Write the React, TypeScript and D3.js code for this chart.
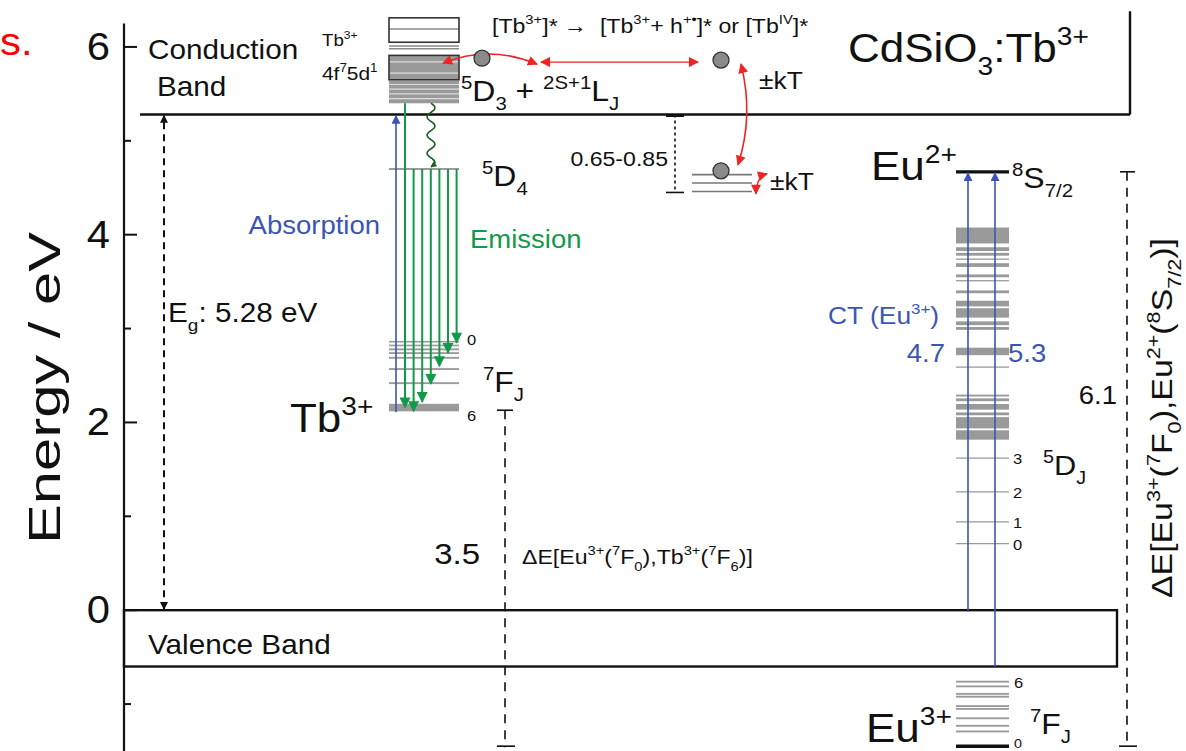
import React from 'react';
import * as d3 from 'd3';

// energy values (eV)
const majorTicks = [6, 4, 2, 0];
const minorTicks = [5, 3, 1, -1];
const bandGap = 5.28;
const valenceBottom = -0.6;

// Tb3+ 4f75d1 manifold
const tb5dBoxes = [[6.31, 6.05], [5.91, 5.65]];
const tb5dBands = [[5.64, 5.40], [5.91, 5.65]];
const tb5dLines = [6.19, 6.01, 5.98];
const tb5dGaps = [5.45, 5.50, 5.55, 5.60, 5.72, 5.84];
const tb5D3 = 5.40;
const tb5D4 = 4.70;
const tb7F = [[2.86, 2.85], [2.82, 2.81], [2.78, 2.76], [2.74, 2.72], [2.69, 2.67], [2.57, 2.55], [2.42, 2.40], [2.19, 2.11]];
const tb7F6 = 2.13;
const tbEmissionEnds = [2.16, 2.12, 2.22, 2.41, 2.60, 2.74, 2.85];

// traps below the conduction band
const trapLevels = [4.64, 4.55, 4.46];
const trapDepth = [5.28, 4.45];
const electrons = [5.88, 5.86, 4.68];

// Eu levels
const eu2Ground = 4.67;
const euHighBands = [
  [4.07, 3.90], [3.86, 3.82], [3.80, 3.77], [3.74, 3.73], [3.69, 3.65], [3.57, 3.54],
  [3.51, 3.50], [3.40, 3.37], [3.29, 3.23], [3.21, 3.11], [3.07, 3.03], [3.01, 2.98],
  [2.79, 2.71], [2.59, 2.59], [2.29, 2.27], [2.25, 2.22], [2.19, 2.13], [2.10, 2.07],
  [2.05, 1.93], [1.91, 1.81],
];
const eu5D = [1.62, 1.26, 0.94, 0.71];
const eu5DLabels = ['3', '2', '1', '0'];
const eu7F = [[-0.76, -0.78], [-0.81, -0.83], [-0.89, -0.91], [-0.92, -0.94], [-1.02, -1.04], [-1.05, -1.07], [-1.15, -1.17], [-1.23, -1.25], [-1.29, -1.31]];
const eu7F0 = -1.47;
const ctStarts = [0, -0.6];
const ctLabels = ['4.7', '5.3'];

const W = 1186, H = 751;
const FONT = 'Liberation Sans, Arial, Helvetica, sans-serif';
const BLUE = '#3b55b5', GREEN = '#13994a', RED = '#ee2424', DKGREEN = '#1d5a22';
const GRAY = '#9a9a9a';
const SX = 1.1; // the original figure is a little stretched sideways

const y = d3.scaleLinear().domain([-1.5, 6.5]).range([H, 0]);

// columns (px)
const AX = 124;
const TB = [389, 459];
const TRAP = [692, 752];
const EU = [956, 1009];

type Part = { t: string; k?: 'sup' | 'sub' };
function parse(s: string): Part[] {
  const out: Part[] = [];
  const re = /\^\{([^}]*)\}|_\{([^}]*)\}|([^\^_]+)/g;
  let m;
  while ((m = re.exec(s))) {
    if (m[1] !== undefined) out.push({ t: m[1], k: 'sup' });
    else if (m[2] !== undefined) out.push({ t: m[2], k: 'sub' });
    else out.push({ t: m[3] });
  }
  return out;
}

// text with ^{sup} / _{sub}, stretched by SX
const Rich = ({ x, yy, s, fs, fill = '#111', anchor = 'start', rot = false, len }: any) => {
  const parts = parse(s);
  let prev = 0;
  const tr = rot ? `translate(${x},${yy}) rotate(-90) scale(1,${SX})` : `translate(${x},${yy}) scale(${SX},1)`;
  return (
    <text x={0} y={0} fontSize={fs} fill={fill} textAnchor={anchor} transform={tr} fontFamily={FONT}
      style={{ whiteSpace: 'pre' }} textLength={len} lengthAdjust={len ? 'spacingAndGlyphs' : undefined}>
      {parts.map((p, i) => {
        const sh = p.k === 'sup' ? -0.42 * fs : p.k === 'sub' ? 0.32 * fs : 0;
        const dy = sh - prev;
        prev = sh;
        return (
          <tspan key={i} dy={dy} fontSize={p.k ? fs * 0.64 : fs}>{p.t}</tspan>
        );
      })}
    </text>
  );
};

const wavy = (x: number, y0: number, y1: number) => {
  const n = 60;
  const pts = d3.range(n + 1).map(i => {
    const t = i / n;
    return [x + 4 * Math.sin(t * Math.PI * 7), y0 + t * (y1 - y0)] as [number, number];
  });
  return d3.line().curve(d3.curveBasis)(pts) as string;
};

const Marker = ({ id, color, w, l }: any) => (
  <marker id={id} viewBox="0 0 10 10" refX={9} refY={5} markerUnits="userSpaceOnUse" markerWidth={l} markerHeight={w} orient="auto-start-reverse">
    <path d="M0,0 L10,5 L0,10 z" fill={color} />
  </marker>
);

export default function App() {
  const yCB = y(bandGap);
  const yVB = y(0);
  const yVB2 = y(valenceBottom);
  const emitX = tbEmissionEnds.map((_, i) => TB[0] + 16 + i * 8.6);
  const [e1, e2, e3] = electrons;

  return (
    <div style={{ position: 'absolute', left: 0, top: 0 }}>
      <svg width={W} height={H} style={{ display: 'block', background: '#fff' }} fontFamily={FONT}>
        <defs>
          <Marker id="mBlk" color="#111" w={8} l={14} />
          <Marker id="mBlue" color={BLUE} w={9} l={15} />
          <Marker id="mGreen" color={GREEN} w={11} l={18} />
          <Marker id="mRed" color={RED} w={10} l={13} />
          <Marker id="mDk" color={DKGREEN} w={6} l={8} />
        </defs>

        <Rich x={0} yy={55} s="s." fs={38} fill="#ff0000" />

        {/* y axis */}
        <line x1={AX} x2={AX} y1={y(6.25)} y2={H} stroke="#111" strokeWidth={2.2} />
        {majorTicks.map(t => (
          <g key={t}>
            <line x1={AX} x2={AX + 13} y1={y(t)} y2={y(t)} stroke="#111" strokeWidth={2} />
            <Rich x={AX - 14} yy={y(t) + 13} s={String(t)} fs={38} anchor="end" />
          </g>
        ))}
        {minorTicks.map(t => (
          <line key={t} x1={AX} x2={AX + 7} y1={y(t)} y2={y(t)} stroke="#111" strokeWidth={2} />
        ))}
        <Rich x={60} yy={388} s="Energy / eV" fs={40} anchor="middle" rot len={312} />

        {/* conduction band */}
        <line x1={140} x2={1130} y1={yCB} y2={yCB} stroke="#111" strokeWidth={2.4} />
        <line x1={1130} x2={1130} y1={y(6.38)} y2={yCB} stroke="#111" strokeWidth={2.4} />
        <Rich x={148} yy={59} s="Conduction" fs={27} />
        <Rich x={157} yy={96} s="Band" fs={27} />
        <Rich x={848} yy={62} s={'CdSiO_{3}:Tb^{3+}'} fs={40} />

        {/* valence band */}
        <rect x={AX} y={yVB} width={1117 - AX} height={yVB2 - yVB} fill="none" stroke="#111" strokeWidth={2.4} />
        <Rich x={148} yy={654} s="Valence Band" fs={27} />

        {/* band gap arrow */}
        <line x1={164} x2={164} y1={yVB - 1} y2={yCB + 1} stroke="#111" strokeWidth={2} strokeDasharray="7,5" markerStart="url(#mBlk)" markerEnd="url(#mBlk)" />
        <Rich x={168} yy={322} s={'E_{g}: 5.28 eV'} fs={27} />

        {/* Tb3+ 4f75d1 */}
        {tb5dBands.map((b, i) => (
          <rect key={i} x={TB[0]} y={y(b[0])} width={TB[1] - TB[0]} height={y(b[1]) - y(b[0])} fill={GRAY} />
        ))}
        {tb5dGaps.map((g, i) => (
          <line key={i} x1={TB[0]} x2={TB[1]} y1={y(g)} y2={y(g)} stroke="#ddd" strokeWidth={1.2} />
        ))}
        {tb5dLines.map((g, i) => (
          <line key={i} x1={TB[0]} x2={TB[1]} y1={y(g)} y2={y(g)} stroke="#8a8a8a" strokeWidth={1.5} />
        ))}
        {tb5dBoxes.map((b, i) => (
          <rect key={i} x={TB[0]} y={y(b[0])} width={TB[1] - TB[0]} height={y(b[1]) - y(b[0])} fill="none" stroke="#333" strokeWidth={1.6} />
        ))}
        <Rich x={322} yy={46} s={'Tb^{3+}'} fs={17} />
        <Rich x={322} yy={80} s={'4f^{7}5d^{1}'} fs={19} />
        <Rich x={461} yy={101} s={'^{5}D_{3} + ^{2S+1}L_{J}'} fs={29} />

        {/* Tb3+ 5D4 and 7F */}
        <line x1={TB[0]} x2={TB[1]} y1={y(tb5D4)} y2={y(tb5D4)} stroke={GRAY} strokeWidth={2} />
        <Rich x={482} yy={186} s={'^{5}D_{4}'} fs={29} />
        {tb7F.map((b, i) => (
          <rect key={i} x={TB[0]} y={y(b[0]) - 0.8} width={TB[1] - TB[0]} height={Math.max(1.6, y(b[1]) - y(b[0]))} fill={GRAY} />
        ))}
        <Rich x={467} yy={345} s="0" fs={15} />
        <Rich x={467} yy={421} s="6" fs={15} />
        <Rich x={483} yy={392} s={'^{7}F_{J}'} fs={29} />
        <Rich x={290} yy={432} s={'Tb^{3+}'} fs={40} />

        {/* absorption */}
        <line x1={396} x2={396} y1={y(tb7F6) + 2} y2={yCB + 1} stroke={BLUE} strokeWidth={1.6} markerEnd="url(#mBlue)" />
        <Rich x={380} yy={234} s="Absorption" fs={25} fill={BLUE} anchor="end" />

        {/* emission */}
        {tbEmissionEnds.map((e, i) => (
          <line key={i} x1={emitX[i]} x2={emitX[i]} y1={i === 0 ? y(tb5D3) : y(tb5D4)} y2={y(e)} stroke={GREEN} strokeWidth={2} markerEnd="url(#mGreen)" />
        ))}
        <Rich x={470} yy={248} s="Emission" fs={25} fill={GREEN} />
        <path d={wavy(431, y(tb5D3), y(tb5D4) - 2)} fill="none" stroke={DKGREEN} strokeWidth={1.6} markerEnd="url(#mDk)" />

        {/* traps, electrons, red arrows */}
        <Rich x={492} yy={33} s={'[Tb^{3+}]* →  [Tb^{3+}+ h^{+•}]* or [Tb^{IV}]*'} fs={21} />
        {trapLevels.map((t, i) => (
          <line key={i} x1={TRAP[0]} x2={TRAP[1]} y1={y(t)} y2={y(t)} stroke="#777" strokeWidth={1.6} />
        ))}
        <line x1={675} x2={675} y1={y(trapDepth[0])} y2={y(trapDepth[1])} stroke="#111" strokeWidth={1.6} strokeDasharray="3,3" />
        <line x1={666} x2={684} y1={y(trapDepth[0]) + 1} y2={y(trapDepth[0]) + 1} stroke="#111" strokeWidth={3} />
        <line x1={666} x2={684} y1={y(trapDepth[1])} y2={y(trapDepth[1])} stroke="#111" strokeWidth={1.6} />
        <Rich x={668} yy={166} s="0.65-0.85" fs={21} anchor="end" />

        <path d={`M${537},${y(e1) + 6} Q${489},${y(e1) - 14} ${443},${y(e1) + 5}`} fill="none" stroke={RED} strokeWidth={1.6} markerStart="url(#mRed)" markerEnd="url(#mRed)" />
        <line x1={541} x2={698} y1={y(e2) + 2} y2={y(e2) + 2} stroke={RED} strokeWidth={1.3} markerStart="url(#mRed)" markerEnd="url(#mRed)" />
        <path d={`M${741},${y(e2) + 4} Q${754},${(y(e2) + y(e3)) / 2} ${738},${y(e3) - 6}`} fill="none" stroke={RED} strokeWidth={1.6} markerStart="url(#mRed)" markerEnd="url(#mRed)" />
        <path d={`M${756},${y(e3) + 23} Q${756},${y(e3) + 6} ${767},${y(e3) + 3}`} fill="none" stroke={RED} strokeWidth={1.6} markerStart="url(#mRed)" markerEnd="url(#mRed)" />
        {[[482, e1], [721, e2], [721, e3]].map(([cx, e], i) => (
          <circle key={i} cx={cx} cy={y(e)} r={8} fill="#8a8a8a" stroke="#333" strokeWidth={1.3} />
        ))}
        <Rich x={759} yy={89} s="±kT" fs={24} />
        <Rich x={770} yy={190} s="±kT" fs={24} />

        {/* Tb - Eu dashed */}
        <line x1={505} x2={505} y1={y(tb7F6)} y2={y(eu7F0) - 1} stroke="#111" strokeWidth={1.6} strokeDasharray="9,7" />
        <line x1={497} x2={513} y1={y(tb7F6)} y2={y(tb7F6)} stroke="#111" strokeWidth={1.6} />
        <line x1={497} x2={515} y1={y(eu7F0) - 2} y2={y(eu7F0) - 2} stroke="#111" strokeWidth={1.6} />
        <Rich x={480} yy={564} s="3.5" fs={30} anchor="end" />
        <Rich x={522} yy={564} s={'ΔE[Eu^{3+}(^{7}F_{0}),Tb^{3+}(^{7}F_{6})]'} fs={21} />

        {/* Eu3+ levels */}
        {euHighBands.map((b, i) => (
          <rect key={i} x={EU[0]} y={y(b[0]) - 0.6} width={EU[1] - EU[0]} height={Math.max(1.3, y(b[1]) - y(b[0]))} fill={GRAY} />
        ))}
        {eu5D.map((e, i) => (
          <g key={i}>
            <line x1={EU[0]} x2={EU[1]} y1={y(e)} y2={y(e)} stroke="#999" strokeWidth={1.2} />
            <Rich x={1013} yy={y(e) + 6} s={eu5DLabels[i]} fs={15} />
          </g>
        ))}
        <Rich x={1043} yy={475} s={'^{5}D_{J}'} fs={28} />
        {eu7F.map((b, i) => (
          <rect key={i} x={EU[0]} y={y(b[0]) - 0.8} width={EU[1] - EU[0]} height={Math.max(1.8, y(b[1]) - y(b[0]))} fill={GRAY} />
        ))}
        <line x1={EU[0]} x2={EU[1]} y1={y(eu7F0) - 2} y2={y(eu7F0) - 2} stroke="#111" strokeWidth={3.5} />
        <Rich x={1014} yy={688} s="6" fs={15} />
        <Rich x={1014} yy={748} s="0" fs={13} />
        <Rich x={1030} yy={734} s={'^{7}F_{J}'} fs={29} />
        <Rich x={866} yy={742} s={'Eu^{3+}'} fs={40} />

        {/* Eu2+ */}
        <line x1={EU[0]} x2={EU[1]} y1={y(eu2Ground)} y2={y(eu2Ground)} stroke="#111" strokeWidth={3.2} />
        <Rich x={871} yy={180} s={'Eu^{2+}'} fs={40} />
        <Rich x={1012} yy={188} s={'^{8}S_{7/2}'} fs={29} />
        {ctStarts.map((e, i) => (
          <line key={i} x1={968 + i * 27} x2={968 + i * 27} y1={y(e)} y2={y(eu2Ground) + 1} stroke={BLUE} strokeWidth={1.6} markerEnd="url(#mBlue)" />
        ))}
        <Rich x={828} yy={324} s={'CT (Eu^{3+})'} fs={24} fill={BLUE} />
        <Rich x={945} yy={362} s={ctLabels[0]} fs={25} anchor="end" fill={BLUE} />
        <Rich x={1008} yy={362} s={ctLabels[1]} fs={25} fill={BLUE} />

        {/* Eu2+ - Eu3+ dashed */}
        <line x1={1127} x2={1127} y1={y(eu2Ground)} y2={y(eu7F0) - 2} stroke="#111" strokeWidth={1.6} strokeDasharray="9,7" />
        <line x1={1120} x2={1135} y1={y(eu2Ground)} y2={y(eu2Ground)} stroke="#111" strokeWidth={1.6} />
        <line x1={1119} x2={1137} y1={y(eu7F0) - 2} y2={y(eu7F0) - 2} stroke="#111" strokeWidth={1.6} />
        <Rich x={1117} yy={404} s="6.1" fs={25} anchor="end" />
        <Rich x={1172} yy={418} s={'ΔE[Eu^{3+}(^{7}F_{0}),Eu^{2+}(^{8}S_{7/2})]'} fs={26} anchor="middle" rot len={360} />
      </svg>
    </div>
  );
}
